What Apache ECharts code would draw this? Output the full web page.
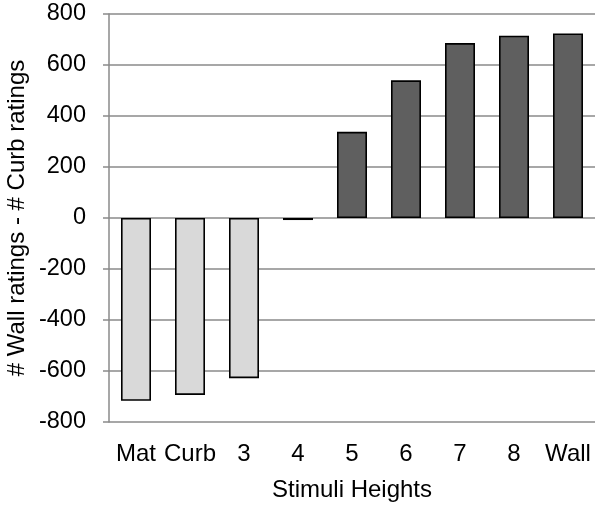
<!DOCTYPE html>
<html>
<head>
<meta charset="utf-8">
<script src="https://cdn.jsdelivr.net/npm/echarts@6/dist/echarts.min.js"></script>
<style>html,body{margin:0;padding:0;background:#fff}#c{width:602px;height:513px}</style>
</head>
<body>
<div id="c"></div>
<script>
const categories = ['Mat', 'Curb', '3', '4', '5', '6', '7', '8', 'Wall'];
const values = [-717, -694, -628, -8, 338, 540, 686, 715, 724];
const yTicks = { min: -800, max: 800, interval: 200 };
const xTitle = 'Stimuli Heights';
const yTitle = '# Wall ratings - # Curb ratings';

const chart = echarts.init(document.getElementById('c'), null, { renderer: 'canvas' });
const font = 'Liberation Sans, Arial, sans-serif';
chart.setOption({
  animation: false,
  grid: { left: 109, right: 7, top: 14, bottom: 91, containLabel: false },
  xAxis: {
    type: 'category',
    data: categories,
    name: xTitle,
    nameLocation: 'middle',
    nameGap: 56,
    nameTextStyle: { fontFamily: font, fontSize: 24, color: '#000' },
    axisLine: { show: false },
    axisTick: { show: false },
    axisLabel: { fontFamily: font, fontSize: 24, color: '#000', margin: 20, interval: 0 }
  },
  yAxis: {
    type: 'value',
    min: yTicks.min, max: yTicks.max, interval: yTicks.interval,
    axisLine: { show: true, lineStyle: { color: '#8a8a8a', width: 1.5 } },
    axisTick: { show: true, length: 6, lineStyle: { color: '#8a8a8a', width: 1.5 } },
    splitLine: { show: true, lineStyle: { color: '#8a8a8a', width: 1.5 } },
    axisLabel: { fontFamily: font, fontSize: 23.5, color: '#000', margin: 23 }
  },
  graphic: [{
    type: 'text',
    x: 17, y: 218,
    rotation: Math.PI / 2,
    style: { text: yTitle, fontFamily: font, fontSize: 24, fill: '#000', align: 'center', verticalAlign: 'middle' }
  }],
  series: [{
    type: 'bar',
    barWidth: 30,
    data: values.map(v => ({
      value: v,
      itemStyle: { color: v < 0 ? '#d9d9d9' : '#5f5f5f', borderColor: '#000', borderWidth: 1.6 }
    }))
  }]
});
</script>
</body>
</html>
